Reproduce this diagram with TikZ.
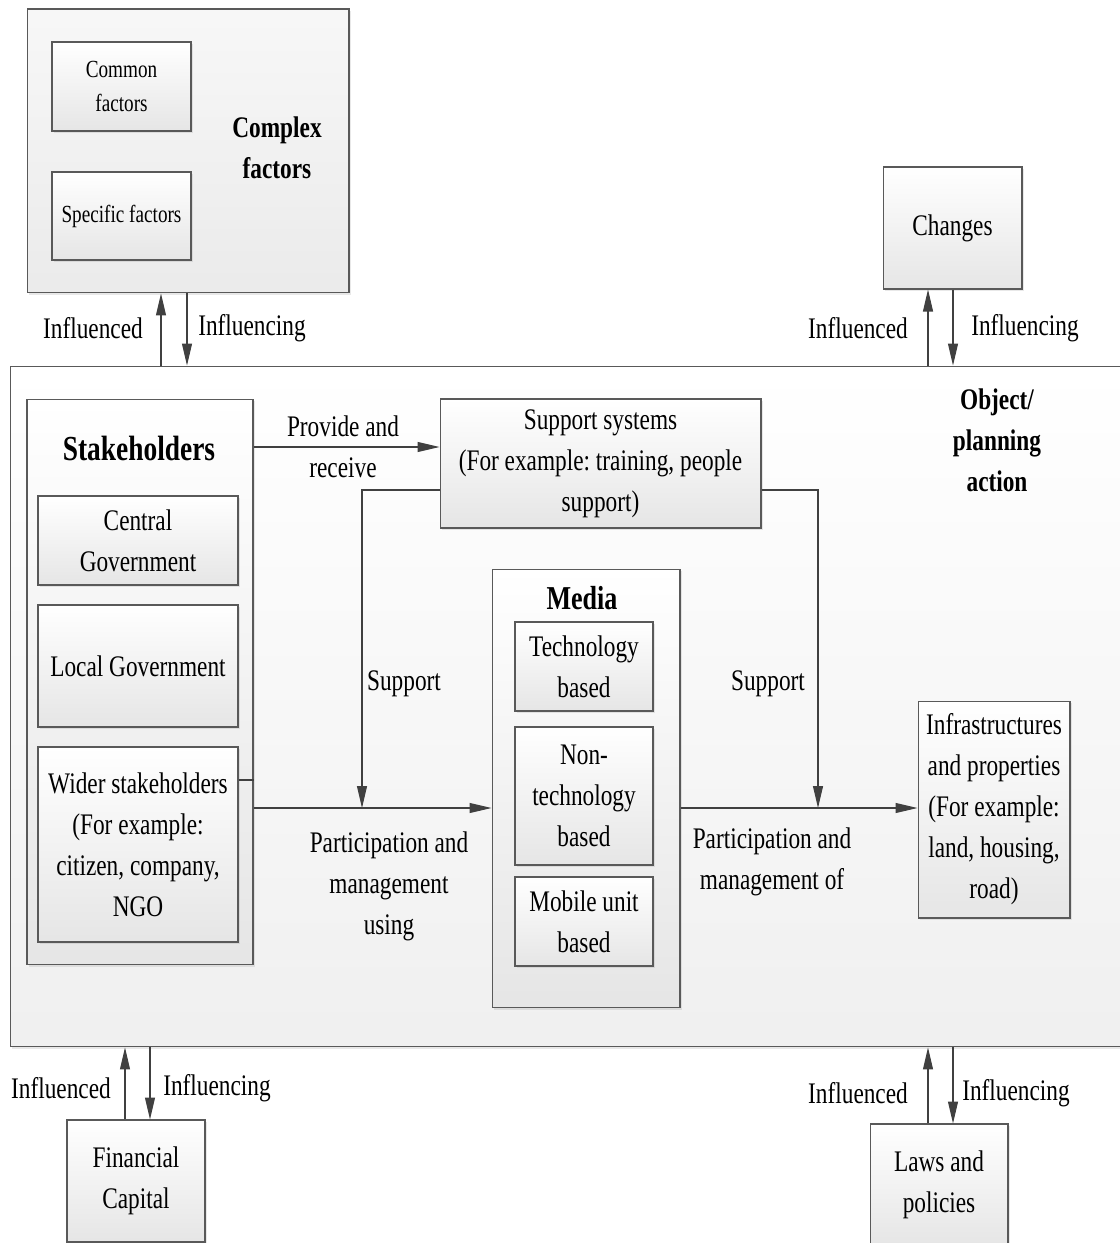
\documentclass[tikz,border=0pt]{standalone}
\usepackage{fontspec}
\setmainfont{Liberation Serif}[FakeStretch=0.78]
\usepackage{tikz}
\usetikzlibrary{arrows.meta,shadows}
\frenchspacing

\newcommand{\txt}{\fontsize{17}{23.3}\selectfont}
\newcommand{\txtsmall}{\fontsize{14}{19.4}\selectfont}

\begin{document}
\begin{tikzpicture}[x=0.02cm,y=-0.02cm]
	\tikzstyle{custbox} = [rectangle, align=center, inner sep=0pt, draw=black!65, line width=0.6pt, top color=white, bottom color=black!10, drop shadow={shadow xshift=1.2pt, shadow yshift=-1.2pt, opacity=0.18}, font=\txt]
	\tikzstyle{bigbox} = [custbox, top color=white, bottom color=black!6]
	\tikzstyle{lbl} = [align=center, inner sep=0pt, font=\txt]
	\tikzstyle{bold} = [align=center, inner sep=0pt, font=\txt\bfseries]
	\tikzstyle{arr} = [-{Triangle[length=0.44cm,width=0.2cm]}, draw=black!75, line width=0.6pt]
	\tikzstyle{ln} = [-, draw=black!75, line width=0.6pt]
	\useasboundingbox (0,0) rectangle (1119,1243);
	
	\node (main) at (566,706.5) [bigbox, minimum width=22.24cm, minimum height=13.62cm]{};
	\node (object) at (997,440) [bold]{Object/\\planning\\action};
	
	\node (cf) at (188,151) [bigbox, top color=black!3, bottom color=black!8, minimum width=6.44cm, minimum height=5.68cm]{};
	\node (cfcommon) at (121.5,86.5) [custbox, minimum width=2.78cm, minimum height=1.78cm, font=\txtsmall]{Common\\factors};
	\node (cfspecific) at (121.5,216) [custbox, minimum width=2.78cm, minimum height=1.76cm, font=\txtsmall]{Specific factors};
	\node (cflabel) at (277,148) [bold]{Complex\\factors};
	
	\node (changes) at (952.5,228) [custbox, minimum width=2.78cm, minimum height=2.44cm]{Changes};
	\node (fincap) at (136,1181) [custbox, minimum width=2.76cm, minimum height=2.44cm]{Financial\\Capital};
	\node (laws) at (939,1185) [custbox, minimum width=2.76cm, minimum height=2.44cm]{Laws and\\policies};
	
	\node (stake) at (140,682) [custbox, minimum width=4.52cm, minimum height=11.32cm]{};
	\node (stakelabel) at (139,448) [bold, font=\fontsize{20}{24}\selectfont\bfseries]{Stakeholders};
	\node (stakecentral) at (138,540.5) [custbox, minimum width=4cm, minimum height=1.78cm]{Central\\Government};
	\node (stakelocal) at (138,666) [custbox, minimum width=4cm, minimum height=2.44cm]{Local Government};
	\node (stakewider) at (138,844.5) [custbox, minimum width=4cm, minimum height=3.9cm]{Wider stakeholders\\(For example:\\citizen, company,\\NGO};
	
	\node (support) at (600.5,463.5) [custbox, minimum width=6.42cm, minimum height=2.58cm]{Support systems\\(For example: training, people\\support)};
	
	\node (media) at (586,788.5) [custbox, minimum width=3.76cm, minimum height=8.78cm]{};
	\node (medialabel) at (582,598) [bold, font=\fontsize{19}{23}\selectfont\bfseries]{Media};
	\node (mediatech) at (584,666.5) [custbox, minimum width=2.76cm, minimum height=1.78cm]{Technology\\based};
	\node (medianontech) at (584,796) [custbox, minimum width=2.76cm, minimum height=2.76cm]{Non-\\technology\\based};
	\node (mediamobile) at (584,921.5) [custbox, minimum width=2.76cm, minimum height=1.78cm]{Mobile unit\\based};
	
	\node (infra) at (994,809.5) [custbox, minimum width=3.04cm, minimum height=4.34cm]{Infrastructures\\and properties\\(For example:\\land, housing,\\road)};
	
	\coordinate (jl) at (362,808);
	\coordinate (jr) at (818,808);
	
	%Arrows
	\draw[arr] (main.north -| 161,0) -- (cf.south -| 161,0);
	\draw[arr] (cf.south -| 187,0) -- (main.north -| 187,0);
	\draw[arr] (main.north -| 928,0) -- (changes.south -| 928,0);
	\draw[arr] (changes.south -| 953,0) -- (main.north -| 953,0);
	\draw[arr] (fincap.north -| 125,0) -- (main.south -| 125,0);
	\draw[arr] (main.south -| 150,0) -- (fincap.north -| 150,0);
	\draw[arr] (laws.north -| 928,0) -- (main.south -| 928,0);
	\draw[arr] (main.south -| 953,0) -- (laws.north -| 953,0);
	
	\node (inflcf) at (93,328) [lbl]{Influenced};
	\node (infgcf) at (252,328) [lbl]{Influencing};
	\node (inflch) at (858,328) [lbl]{Influenced};
	\node (infgch) at (1025,328) [lbl]{Influencing};
	\node (inflfc) at (61,1088) [lbl]{Influenced};
	\node (infgfc) at (217,1088) [lbl]{Influencing};
	\node (infllw) at (858,1093) [lbl]{Influenced};
	\node (infglw) at (1016,1093) [lbl]{Influencing};
	
	%inside
	\draw[arr] (stake.east |- 0,447) -- (support.west |- 0,447);
	\node (provide) at (343,447) [lbl]{Provide and\\receive};
	\draw[arr] (support.west |- 0,490) -| (jl);
	\draw[arr] (support.east |- 0,490) -| (jr);
	\node (supportl) at (404,684) [lbl]{Support};
	\node (supportr) at (768,684) [lbl]{Support};
	\draw[ln] (stakewider.east |- 0,780) -- (stake.east |- 0,780);
	\draw[arr] (stake.east |- jl) -- (media.west |- jl);
	\draw[arr] (media.east |- jr) -- (infra.west |- jr);
	\node (partusing) at (389,886) [lbl]{Participation and\\management\\using};
	\node (partof) at (772,862) [lbl]{Participation and\\management of};
	
\end{tikzpicture}
\end{document}
